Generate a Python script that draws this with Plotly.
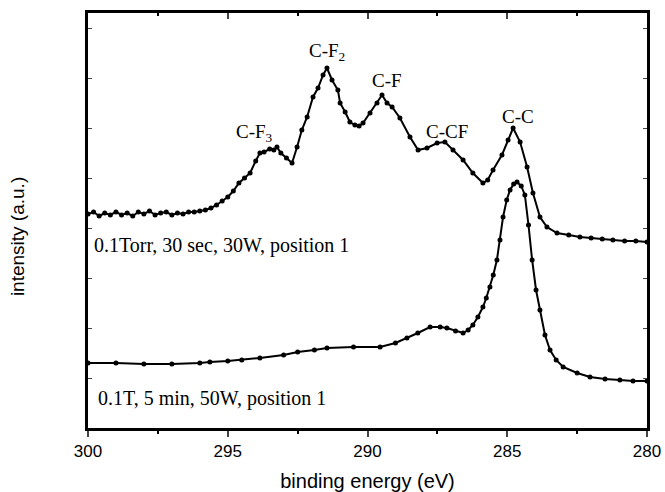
import plotly.graph_objects as go

# binding energy (eV) and intensity (a.u.)
top_energy = [300.0, 299.8, 299.6, 299.4, 299.2, 299.0, 298.8, 298.6, 298.4, 298.2, 298.0, 297.8, 297.6,
              297.4, 297.2, 297.0, 296.8, 296.6, 296.4, 296.2, 296.0, 295.8, 295.6, 295.4, 295.2, 295.0,
              294.8, 294.6, 294.4, 294.2, 294.0, 293.85, 293.7, 293.5, 293.35, 293.24, 293.1, 292.9, 292.7,
              292.52, 292.35, 292.16, 291.95, 291.77, 291.59, 291.45, 291.27, 291.06, 290.98, 290.8, 290.63,
              290.45, 290.3, 290.16, 289.91, 289.66, 289.48, 289.3, 289.12, 288.84, 288.48, 288.19, 287.87,
              287.51, 287.23, 286.94, 286.58, 286.23, 285.87, 285.7, 285.51, 285.19, 284.97, 284.79, 284.54,
              284.29, 284.08, 283.83, 283.58, 283.22, 282.8, 282.4, 282.0, 281.6, 281.22, 280.8, 280.4, 280.0]
top_intensity = [214, 216, 212, 215, 213, 216, 213, 215, 212, 216, 214, 217, 213,
                 215, 216, 213, 215, 214, 216, 216, 217, 218, 220, 223, 227, 231,
                 237, 245, 250, 255, 267, 275, 276, 279, 278, 281, 275, 270, 265,
                 281, 298, 311, 331, 340, 353, 360, 348, 338, 325, 316, 306,
                 303, 302, 305, 315, 325, 333, 325, 321, 310, 291, 278, 280,
                 285, 286, 278, 268, 255, 245, 248, 258, 273, 288, 300, 286,
                 261, 235, 211, 201, 195, 193, 191, 190, 189, 188, 187, 187, 186]

bottom_energy = [300.0, 299.0, 298.0, 297.0, 296.0, 295.64, 295.0, 294.5, 293.85, 293.0, 292.5, 291.9, 291.45,
                 290.5, 289.55, 289.0, 288.59, 288.2, 287.76, 287.4, 287.16, 286.85, 286.58, 286.4, 286.23,
                 286.05, 285.87, 285.75, 285.62, 285.5, 285.37, 285.26, 285.15, 285.02, 284.9, 284.77, 284.65,
                 284.5, 284.37, 284.24, 284.11, 283.97, 283.83, 283.65, 283.47, 283.25, 283.0, 282.5, 282.04,
                 281.5, 280.97, 280.5, 280.0]
bottom_intensity = [65, 65, 64, 64, 65, 66, 67, 68, 70, 73, 76, 78, 80,
                    81, 81, 85, 90, 95, 101, 101, 100, 97, 95, 98, 103,
                    111, 121, 130, 141, 153, 168, 188, 211, 228, 238, 244, 246,
                    242, 233, 203, 168, 138, 118, 93, 78, 68, 61, 55, 51,
                    49, 48, 47, 47]

x_ticks = [300, 295, 290, 285, 280]

peak_labels = ["C-F<sub>3</sub>", "C-F<sub>2</sub>", "C-F", "C-CF", "C-C"]
peak_x = [294.05, 291.45, 289.30, 287.16, 284.62]
peak_y = [295, 376, 348, 297, 312]

sample_labels = ["0.1Torr, 30 sec, 30W, position 1", "0.1T, 5 min, 50W, position 1"]
sample_x = [299.86, 299.71]
sample_y = [183, 30]

fig = go.Figure()
for xs, ys in [(top_energy, top_intensity), (bottom_energy, bottom_intensity)]:
    fig.add_trace(go.Scatter(x=xs, y=ys, mode="lines+markers",
                             line=dict(color="black", width=2),
                             marker=dict(color="black", size=5, symbol="circle"),
                             showlegend=False, hoverinfo="skip"))
# invisible trace to carry the top (inward-ticked) axis
fig.add_trace(go.Scatter(x=[bottom_energy[0]], y=[bottom_intensity[0]], xaxis="x2", mode="markers",
                         marker=dict(opacity=0), showlegend=False, hoverinfo="skip"))

serif = "Liberation Serif, Times New Roman, serif"
sans = "Liberation Sans, Arial, sans-serif"
for t, x, y in zip(peak_labels, peak_x, peak_y):
    fig.add_annotation(x=x, y=y, text=t, showarrow=False, xanchor="center", yanchor="middle",
                       font=dict(family=serif, size=19, color="black"))
for t, x, y in zip(sample_labels, sample_x, sample_y):
    fig.add_annotation(x=x, y=y, text=t, showarrow=False, xanchor="left", yanchor="middle",
                       font=dict(family=serif, size=20, color="black"))

# y-axis title (placed slightly below plot centre as in the reference)
fig.add_annotation(xref="paper", yref="paper", x=-0.127, y=0.46, text="intensity (a.u.)",
                   textangle=-90, showarrow=False, xanchor="center", yanchor="middle",
                   font=dict(family=sans, size=19, color="black"))

fig.update_layout(
    width=665, height=492,
    margin=dict(l=88, r=18, t=13, b=64, autoexpand=False),
    paper_bgcolor="white", plot_bgcolor="white",
    font=dict(family=sans, size=17, color="black"),
    xaxis=dict(range=[300, 280], tickvals=x_ticks, ticks="outside", ticklen=6, tickwidth=1.5,
               showline=True, linecolor="black", linewidth=2.5, showgrid=False, automargin=False,
               zeroline=False, tickfont=dict(size=17),
               minor=dict(dtick=2.5, ticks="outside", ticklen=3, tickcolor="black"),
               title=dict(text="binding energy (eV)", font=dict(size=20), standoff=14)),
    xaxis2=dict(overlaying="x", matches="x", side="top", tickvals=x_ticks, ticks="inside",
                ticklen=6, tickwidth=1.5, showticklabels=False, showline=True, linecolor="black",
                linewidth=2.5, showgrid=False, zeroline=False, automargin=False,
                minor=dict(dtick=2.5, ticks="inside", ticklen=3, tickcolor="black")),
    yaxis=dict(range=[0, 415], showticklabels=False, ticks="inside", ticklen=4, dtick=50,
               showline=True, linecolor="black", linewidth=2.5, mirror="ticks", showgrid=False,
               zeroline=False, automargin=False),
)

fig.write_html("out.html")
